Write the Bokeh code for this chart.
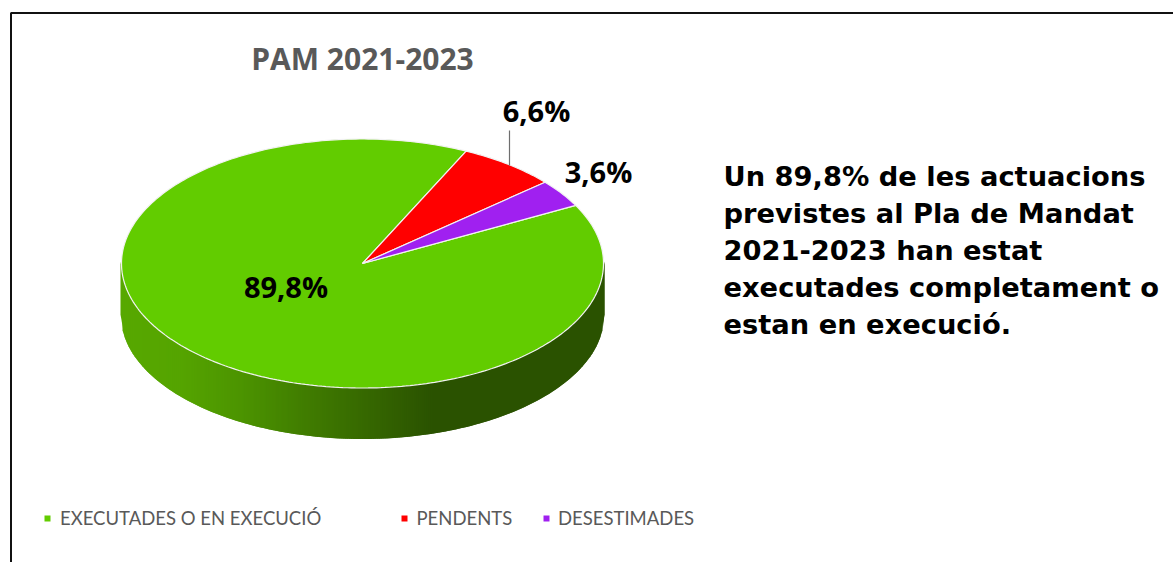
import numpy as np
from bokeh.plotting import figure
from bokeh.models import Range1d
from bokeh.core.properties import value
from bokeh.embed import file_html
from bokeh.resources import INLINE

categories = ["EXECUTADES  O EN EXECUCIÓ", "PENDENTS", "DESESTIMADES"]
values = [89.8, 6.6, 3.6]
slice_labels = ["89,8%", "6,6%", "3,6%"]
colors = ["#62CC00", "#FF0000", "#A020F0"]
title = "PAM 2021-2023"
note_lines = [
    "Un 89,8% de les actuacions",
    "previstes al Pla de Mandat",
    "2021-2023 han estat",
    "executades completament o",
    "estan en execució.",
]

# layout, in page pixels
CX, CY, RX, RY, DEPTH = 362.0, 263.0, 241.0, 124.5, 51.0
START_DEG = 62.2
W, H = 1173, 562

p = figure(width=W, height=H, output_backend="svg", toolbar_location=None,
           x_range=Range1d(0, W), y_range=Range1d(H, 0),
           min_border=0, outline_line_color=None, background_fill_color="white")
p.axis.visible = False
p.grid.visible = False

# frame
p.line([10.5, 10.5, W], [H, 12.5, 12.5], line_color="#111111", line_width=2)

# side wall, in thin overlapping vertical strips (shaded left to right)
stop_x = [CX - RX - 1, 180, 240, 300, 360, 433, CX + RX + 1]
stop_c = np.array([[0x57, 0xA8, 0x00], [0x55, 0xA4, 0x00], [0x4C, 0x94, 0x00],
                   [0x41, 0x7E, 0x00], [0x37, 0x6A, 0x00], [0x2A, 0x52, 0x00],
                   [0x2A, 0x52, 0x00]], dtype=float)
edges = np.arange(CX - RX - 1, CX + RX + 1.01, 2.0)
edge_top = lambda v: CY + RY * np.sqrt(max(0.0, 1 - ((v - CX) / (RX + 1)) ** 2))
xs, ys, fc = [], [], []
for a, b in zip(edges[:-1], edges[1:]):
    c = min(b + 2.0, CX + RX + 1)          # overlap the next strip, no seams
    ya, yc = edge_top(a), edge_top(c)
    xs.append([a, c, c, a])
    ys.append([ya - 2, yc - 2, yc + DEPTH, ya + DEPTH])
    m = (a + b) / 2
    rgb = [int(round(np.interp(m, stop_x, stop_c[:, i]))) for i in range(3)]
    fc.append("#%02X%02X%02X" % tuple(rgb))
p.patches(xs, ys, fill_color=fc, line_color=None)

# top face: clockwise from the start angle
fractions = np.array(values) / sum(values)
angle = START_DEG
sx, sy = [], []
for f in fractions:
    th = np.radians(np.linspace(angle, angle + f * 360, max(3, int(f * 360))))
    sx.append(np.r_[CX, CX + RX * np.sin(th)])
    sy.append(np.r_[CY, CY - RY * np.cos(th)])
    angle += f * 360
p.patches(sx, sy, fill_color=colors, line_color="#F2F2F2", line_width=1.2)

# leader line
p.line([509, 509], [130, 165], line_color="#6E6E6E", line_width=1.2)

def txt(x, y, s, font, size, color, style="bold", align="left"):
    p.text([x], [y], text=[s], text_font=value(font), text_font_size=size,
           text_font_style=style, text_color=color, text_align=align,
           text_baseline="middle")

txt(362, 58, title, "Open Sans", "30px", "#595959", align="center")
txt(285.5, 286, slice_labels[0], "Open Sans", "29px", "#000000", align="center")
txt(536, 110, slice_labels[1], "Open Sans", "29px", "#000000", align="center")
txt(598, 170.5, slice_labels[2], "Open Sans", "29px", "#000000", align="center")

for i, line in enumerate(note_lines):
    txt(723, 175.5 + 37 * i, line, "DejaVu Sans", "27.3px", "#000000")

marker_x = [47, 404, 546]
label_x = [59.5, 416, 557.5]
p.scatter(marker_x, [518] * 3, marker="square", size=6, fill_color=colors, line_color=None)
for x, c in zip(label_x, categories):
    txt(x, 517, c, "Lato", "18.5px", "#595959", style="normal")

open("out.html", "w").write(file_html(p, INLINE))
